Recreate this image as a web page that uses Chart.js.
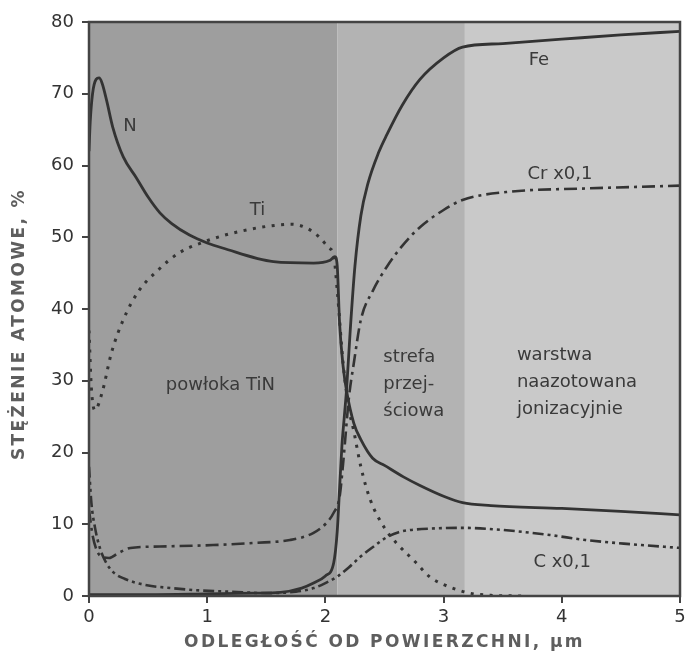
<!DOCTYPE html>
<html>
<head>
<meta charset="utf-8">
<script src="https://cdn.jsdelivr.net/npm/chart.js@4/dist/chart.umd.min.js"></script>
<style>
  html, body { margin: 0; padding: 0; background: #fff; }
  #wrap { width: 685px; height: 660px; }
</style>
</head>
<body>
<div id="wrap"><canvas id="wykres" width="685" height="660"></canvas></div>
<script>
// dane (x w µm, y w % at.)
var xN  = [0, 0.01, 0.03, 0.06, 0.085, 0.11, 0.15, 0.2, 0.29, 0.4, 0.5, 0.6, 0.7, 0.85, 1.0, 1.13, 1.56, 1.9, 2.04, 2.08, 2.1, 2.12, 2.15, 2.18, 2.24, 2.3, 2.4, 2.5, 2.66, 2.8, 3.0, 3.16, 3.4, 4.0, 4.5, 5.0];
var yN  = [62, 66, 70, 72, 72.2, 71.5, 69, 65.4, 61.2, 58.3, 55.6, 53.4, 51.9, 50.3, 49.2, 48.5, 46.6, 46.4, 46.8, 47.3, 46, 38, 32, 28.5, 24.1, 21.8, 19.2, 18.2, 16.6, 15.4, 13.9, 13.0, 12.6, 12.2, 11.8, 11.3];

var xFe = [0, 0.5, 1.0, 1.4, 1.62, 1.8, 1.9, 2.0, 2.07, 2.1, 2.12, 2.14, 2.16, 2.18, 2.21, 2.25, 2.3, 2.36, 2.45, 2.52, 2.65, 2.8, 3.0, 3.16, 3.5, 4.0, 4.5, 5.0];
var yFe = [0.2, 0.2, 0.3, 0.4, 0.5, 1.1, 1.8, 2.8, 4.6, 9, 15, 21, 25, 29, 37, 46, 53, 57.5, 61.8, 64.3, 68.4, 72, 75, 76.5, 77, 77.6, 78.2, 78.7];

var xTi = [0, 0.02, 0.05, 0.11, 0.19, 0.29, 0.42, 0.57, 0.76, 0.98, 1.15, 1.3, 1.5, 1.72, 1.85, 1.95, 2.03, 2.07, 2.1, 2.15, 2.2, 2.24, 2.3, 2.38, 2.5, 2.6, 2.77, 2.88, 3.0, 3.22, 3.4, 3.7];
var yTi = [37, 29, 25.9, 28.3, 33.9, 38.5, 42.5, 45.2, 47.8, 49.4, 50.3, 50.9, 51.5, 51.8, 51.2, 50, 48.5, 47.5, 42.6, 32.4, 26, 23, 18, 13.4, 9.5, 7.4, 4.6, 2.7, 1.6, 0.4, 0.1, 0];

var xCr = [0, 0.03, 0.07, 0.12, 0.17, 0.25, 0.35, 0.6, 1.05, 1.4, 1.7, 1.9, 2.01, 2.07, 2.12, 2.15, 2.2, 2.24, 2.3, 2.4, 2.52, 2.65, 2.8, 3.0, 3.16, 3.53, 4.2, 4.6, 5.0];
var yCr = [12, 8.5, 6.2, 5.4, 5.3, 6, 6.7, 6.9, 7.1, 7.4, 7.8, 8.8, 10.2, 11.6, 13.8, 18.5, 27.8, 32.4, 38.5, 42.5, 45.9, 48.8, 51.4, 53.8, 55.2, 56.3, 56.8, 57, 57.2];

var xC  = [0, 0.02, 0.05, 0.09, 0.14, 0.2, 0.3, 0.49, 0.7, 0.91, 1.2, 1.5, 1.75, 1.9, 2.0, 2.1, 2.2, 2.29, 2.4, 2.52, 2.62, 2.72, 2.9, 3.16, 3.5, 3.9, 4.2, 4.6, 5.0];
var yC  = [18, 13, 9.6, 6.8, 4.8, 3.4, 2.4, 1.5, 1.1, 0.8, 0.6, 0.4, 0.6, 1.1, 1.8, 2.7, 4.0, 5.4, 6.8, 8.2, 8.9, 9.2, 9.4, 9.5, 9.2, 8.5, 7.8, 7.2, 6.7];

// strefy (granice w µm)
var granice = [0, 2.1, 3.18, 5];
var koloryStref = ['#9e9e9e', '#b3b3b3', '#c9c9c9'];

// podpisy na wykresie
var podpisy = [
  { t: ['N'], x: 0.29, y: 65.4 },
  { t: ['Ti'], x: 1.36, y: 53.8 },
  { t: ['Fe'], x: 3.72, y: 74.7 },
  { t: ['Cr x0,1'], x: 3.71, y: 58.7 },
  { t: ['C x0,1'], x: 3.76, y: 4.7 },
  { t: ['powłoka TiN'], x: 0.65, y: 29.4 },
  { t: ['strefa', 'przej-', 'ściowa'], x: 2.49, y: 33.2 },
  { t: ['warstwa', 'naazotowana', 'jonizacyjnie'], x: 3.62, y: 33.6 }
];

var tytulX = 'ODLEGŁOŚĆ OD POWIERZCHNI, µm';
var tytulY = 'STĘŻENIE ATOMOWE, %';

function punkty(xs, ys){
  var p = [];
  for (var i = 0; i < xs.length; i++) p.push({x: xs[i], y: ys[i]});
  return p;
}

var kolorLinii = '#333333';

function seria(nazwa, xs, ys, dash, grubosc){
  return {
    label: nazwa,
    data: punkty(xs, ys),
    showLine: true,
    borderColor: kolorLinii,
    borderWidth: grubosc,
    borderDash: dash,
    borderCapStyle: 'butt',
    pointRadius: 0,
    cubicInterpolationMode: 'monotone',
    fill: false
  };
}

var tloPlugin = {
  id: 'tlo',
  beforeDatasetsDraw: function(chart){
    var ctx = chart.ctx, a = chart.chartArea, sx = chart.scales.x;
    ctx.save();
    for (var i = 0; i < koloryStref.length; i++){
      var x1 = sx.getPixelForValue(granice[i]);
      var x2 = sx.getPixelForValue(granice[i+1]);
      ctx.fillStyle = koloryStref[i];
      ctx.fillRect(x1, a.top, x2 - x1, a.bottom - a.top);
    }
    ctx.restore();
  },
  afterDatasetsDraw: function(chart){
    var ctx = chart.ctx, a = chart.chartArea, sx = chart.scales.x, sy = chart.scales.y;
    ctx.save();
    // ramka
    ctx.strokeStyle = '#444';
    ctx.lineWidth = 2.5;
    ctx.strokeRect(a.left, a.top, a.right - a.left, a.bottom - a.top);
    // podpisy
    ctx.fillStyle = '#3a3a3a';
    ctx.font = '18px "DejaVu Sans"';
    ctx.textAlign = 'left';
    ctx.textBaseline = 'middle';
    podpisy.forEach(function(p){
      var px = sx.getPixelForValue(p.x), py = sy.getPixelForValue(p.y);
      p.t.forEach(function(linia, k){
        ctx.fillText(linia, px, py + k * 27);
      });
    });
    // tytuly osi
    ctx.fillStyle = '#5e5e5e';
    ctx.font = 'bold 17px "DejaVu Sans"';
    ctx.letterSpacing = '2.4px';
    ctx.textAlign = 'center';
    ctx.fillText(tytulX, (a.left + a.right) / 2, 643);
    ctx.translate(20, 324);
    ctx.rotate(-Math.PI / 2);
    ctx.fillText(tytulY, 0, 0);
    ctx.restore();
  }
};

Chart.defaults.font.family = '"DejaVu Sans"';
Chart.defaults.color = '#333';

var ctx = document.getElementById('wykres');
var wykres = new Chart(ctx, {
  type: 'scatter',
  data: {
    datasets: [
      seria('N', xN, yN, [], 2.8),
      seria('Fe', xFe, yFe, [], 2.8),
      seria('Ti', xTi, yTi, [3, 6.5], 3),
      seria('Cr x0,1', xCr, yCr, [13, 5, 3, 5], 2.6),
      seria('C x0,1', xC, yC, [11, 4, 3, 4, 3, 4], 2.6)
    ]
  },
  options: {
    responsive: false,
    animation: false,
    layout: { padding: { top: 22, right: 5, left: 0, bottom: 0 } },
    plugins: { legend: { display: false }, tooltip: { enabled: false } },
    scales: {
      x: {
        type: 'linear', min: 0, max: 5,
        afterFit: function(s){ s.height = 64; s.paddingRight = 0; s.paddingLeft = 0; },
        ticks: { stepSize: 1, padding: 4, font: { size: 18 }, color: '#333' },
        grid: { drawOnChartArea: false, tickLength: 7, color: '#444', lineWidth: 2 },
        border: { display: false }
      },
      y: {
        type: 'linear', min: 0, max: 80,
        afterFit: function(s){ s.width = 89; s.paddingTop = 0; s.paddingBottom = 0; },
        ticks: { stepSize: 10, padding: 8, font: { size: 18 }, color: '#333' },
        grid: { drawOnChartArea: false, tickLength: 7, color: '#444', lineWidth: 2 },
        border: { display: false }
      }
    }
  },
  plugins: [tloPlugin]
});
</script>
</body>
</html>
